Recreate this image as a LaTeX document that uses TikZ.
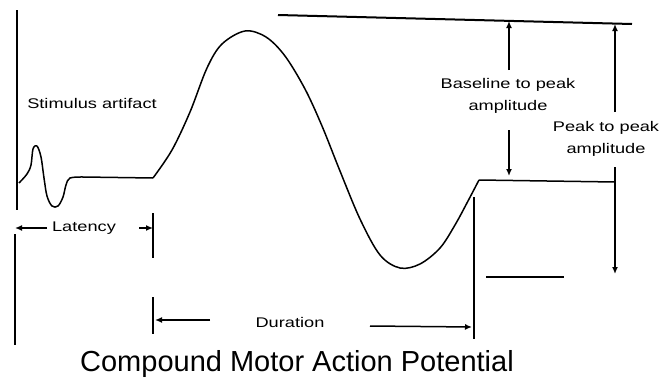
\documentclass[tikz,border=0pt]{standalone}
\usepackage{fontspec}
\setmainfont{Liberation Sans}
\newfontfamily\lblfont[FakeStretch=1.3]{Liberation Sans}
\usetikzlibrary{arrows.meta}
\tikzset{
  wave/.style={line width=1.5pt, line join=round},
  dimline/.style={line width=1.5pt},
  tip/.style={-{Latex[length=7pt,width=6pt]}, line width=1.5pt},
  lbl/.style={inner sep=0pt, font=\lblfont\fontsize{14}{22}\selectfont, align=center},
}
\begin{document}
\begin{tikzpicture}[x=1pt,y=-1pt]
\useasboundingbox (0,0) rectangle (665,386);
% coordinates
\coordinate (L1t) at (17,10);
\coordinate (L1b) at (17,210);
\coordinate (L2t) at (15,234);
\coordinate (L2b) at (15,345);
\coordinate (latTop) at (153,213);
\coordinate (latBot) at (153,258);
\coordinate (durTop) at (153,297);
\coordinate (durBot) at (153,334);
\coordinate (rvTop) at (474,197);
\coordinate (rvBot) at (474,339);
\coordinate (topA) at (278,15);
\coordinate (topB) at (632,24);
\coordinate (troA) at (486,277);
\coordinate (troB) at (564,277);
\coordinate (b0) at (83,177);
\coordinate (b1) at (153,178);
\coordinate (b2) at (479,180);
\coordinate (b3) at (615,182);
% labels
\node[lbl] (stim) at (92,103) {Stimulus artifact};
\node[lbl] (lat) at (84,228) {Latency};
\node[lbl] (dur) at (290,322) {Duration};
\node[lbl] (bp) at (508,96) {Baseline to peak\\amplitude};
\node[lbl] (pp) at (606,139) {Peak to peak\\amplitude};
\node[inner sep=0pt, font=\fontsize{29}{34}\selectfont] (title) at (297,364) {Compound Motor Action Potential};
% reference lines
\draw[dimline] (L1t) -- (L1b);
\draw[dimline] (L2t) -- (L2b);
\draw[dimline] (latTop) -- (latBot);
\draw[dimline] (durTop) -- (durBot);
\draw[dimline] (rvTop) -- (rvBot);
\draw[line width=2pt] (topA) -- (topB);
\draw[dimline] (troA) -- (troB);
% stimulus artifact
\draw[wave] plot[smooth, tension=0.55] coordinates {(19,183) (27,174) (31,165) (33,149) (37,146) (41,157) (44,178) (47,196) (52,206) (58,206) (63,197) (66,185) (70,178) (b0)};
\draw[wave] (b0) -- (b1);
% main wave
\draw[wave] plot[smooth, tension=0.55] coordinates {(b1) (172,150) (190,112) (207,68) (222,44) (245,31) (266,37) (285,56) (305,89) (322,126) (340,171) (360,219) (380,255) (400,268) (420,264) (440,248) (455,225) (468,201) (b2)};
\draw[wave] (b2) -- (b3);
% latency arrows
\coordinate (latL0) at (47,228);
\coordinate (latL1) at (15,228);
\coordinate (latR0) at (139,228);
\draw[tip] (latL0) -- (latL1);
\draw[tip] (latR0) -- (latTop |- latR0);
% duration arrows
\coordinate (durL0) at (210,320);
\coordinate (durL1) at (155,320);
\coordinate (durR0) at (370,326);
\coordinate (durR1) at (472,327);
\draw[tip] (durL0) -- (durL1);
\draw[tip] (durR0) -- (durR1);
% baseline to peak arrows
\coordinate (bpU0) at (509,70);
\coordinate (bpU1) at (509,21);
\coordinate (bpD0) at (509,130);
\coordinate (bpD1) at (509,176);
\draw[tip] (bpU0) -- (bpU1);
\draw[tip] (bpD0) -- (bpD1);
% peak to peak arrows
\coordinate (ppU0) at (615,112);
\coordinate (ppU1) at (615,24);
\coordinate (ppD0) at (615,167);
\coordinate (ppD1) at (615,274);
\draw[tip] (ppU0) -- (ppU1);
\draw[tip] (ppD0) -- (ppD1);
\end{tikzpicture}
\end{document}
